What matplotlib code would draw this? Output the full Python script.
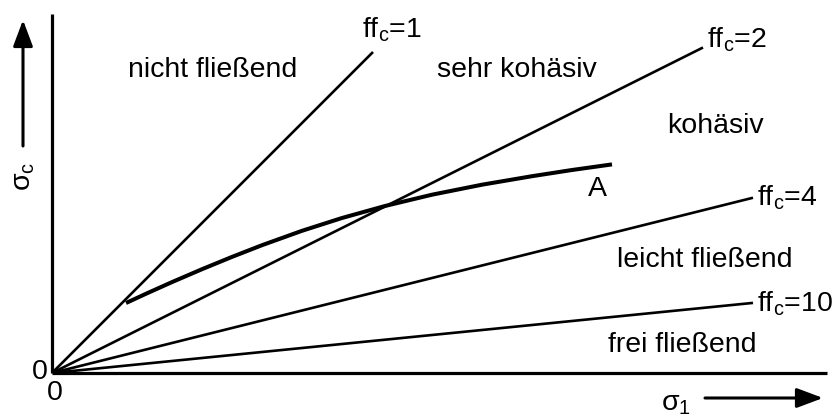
import matplotlib.pyplot as plt
import numpy as np

plt.rcParams['font.family'] = ['Liberation Sans', 'DejaVu Sans']
plt.rcParams['mathtext.fontset'] = 'custom'
plt.rcParams['mathtext.rm'] = 'Liberation Sans'
plt.rcParams['mathtext.it'] = 'Liberation Sans'

# Fließfähigkeit ff_c = sigma_1 / sigma_c  -> Geraden durch den Ursprung
ffc = [1, 2, 4, 10]
sigma1_end = [3.21, 6.51, 7.01, 7.01]

# Fließort A (sigma_1, sigma_c)
sigma1_A = [0.74, 0.95, 1.20, 1.50, 1.80, 2.10, 2.50, 2.90, 3.33, 3.80,
            4.30, 4.80, 5.20, 5.60]
sigmac_A = [0.70, 0.797, 0.909, 1.038, 1.161, 1.278, 1.422, 1.550, 1.670,
            1.783, 1.883, 1.968, 2.030, 2.086]

# Bereiche
bereiche = ['nicht fließend', 'sehr kohäsiv', 'kohäsiv', 'leicht fließend', 'frei fließend']
bereich_pos = [(0.76, 2.96), (3.85, 2.96), (6.15, 2.40), (5.65, 1.06), (5.56, 0.21)]

W, H = 836, 417
fig = plt.figure(figsize=(W / 100, H / 100), dpi=100)
ax = fig.add_axes([52 / W, 44 / H, 775 / W, 359 / H])
ax.set_xlim(0, 7.75)
ax.set_ylim(0, 3.59)
for s in ['top', 'right']:
    ax.spines[s].set_visible(False)
for s in ['left', 'bottom']:
    ax.spines[s].set_linewidth(2.3)
    ax.spines[s].set_capstyle('butt')
ax.set_xticks([])
ax.set_yticks([])

fs = 20.5
lw = 1.9

for ff, x1 in zip(ffc, sigma1_end):
    xs = np.array([0, x1])
    ax.plot(xs, xs / ff, color='black', lw=lw, solid_capstyle='butt')

ax.plot(sigma1_A, sigmac_A, color='black', lw=2.9, solid_capstyle='butt',
        solid_joinstyle='round')
ax.text(5.36, 1.77, 'A', fontsize=fs, ha='left', va='baseline')

# Beschriftung der ff_c-Geraden
ff_pos = [(3.10, 3.36), (6.55, 3.25), (7.05, 1.68), (7.05, 0.61)]
for ff, (x, y) in zip(ffc, ff_pos):
    ax.text(x, y, r'ff$_\mathregular{c}$=' + str(ff), fontsize=fs,
            ha='left', va='baseline', clip_on=False)

for name, (x, y) in zip(bereiche, bereich_pos):
    ax.text(x, y, name, fontsize=fs, ha='left', va='baseline')


def px(x, y):
    return x / W, 1 - y / H


# Achsenbeschriftung mit Pfeilen
fig.text(*px(40, 372), '0', fontsize=fs, ha='center', va='center')
fig.text(*px(55, 393), '0', fontsize=fs, ha='center', va='center')
fig.text(*px(24, 176), r'σ$_\mathregular{c}$', fontsize=fs, rotation=90,
         ha='center', va='center')
fig.text(*px(676, 404), r'σ$_\mathregular{1}$', fontsize=fs,
         ha='center', va='center')

arrow = dict(arrowstyle='-|>,head_length=1.6,head_width=0.6', color='black',
             lw=2.2, shrinkA=0, shrinkB=0)
ax.annotate('', xy=px(823, 398), xytext=px(705, 398),
            xycoords='figure fraction', textcoords='figure fraction',
            arrowprops=arrow)
ax.annotate('', xy=px(23, 20), xytext=px(23, 146),
            xycoords='figure fraction', textcoords='figure fraction',
            arrowprops=arrow)

fig.savefig('out.png', dpi=100)
